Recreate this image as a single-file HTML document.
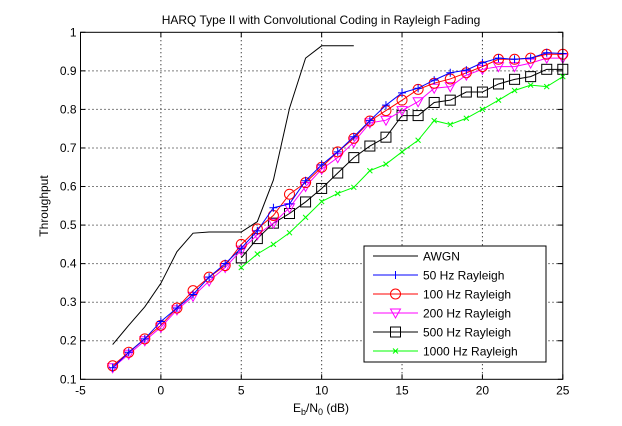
<!DOCTYPE html>
<html><head><meta charset="utf-8"><style>
body{margin:0;background:#fff;}
svg{display:block;font-family:"Liberation Sans",sans-serif;}
</style></head><body>
<svg id="chart" width="622" height="426" viewBox="0 0 622 426" xmlns="http://www.w3.org/2000/svg">
<rect x="0" y="0" width="622" height="426" fill="#fff"/>
<text x="321" y="24" font-size="12" text-anchor="middle">HARQ Type II with Convolutional Coding in Rayleigh Fading</text>
<text x="321" y="412" font-size="12" text-anchor="middle">E<tspan font-size="9" dy="3">b</tspan><tspan dy="-3">/N</tspan><tspan font-size="9" dy="3">0</tspan><tspan dy="-3"> (dB)</tspan></text>
<text transform="translate(48,206) rotate(-90)" font-size="12" text-anchor="middle">Throughput</text>
<g id="grid"></g><g id="series"></g><g id="axes"></g><g id="legend"></g>
</svg>
<script>
const xTicks=[-5,0,5,10,15,20,25];
const yTicks=[0.1,0.2,0.3,0.4,0.5,0.6,0.7,0.8,0.9,1];
const awgnX=[-3,-2,-1,0,1,2,3,4,5,6,7,8,9,10,11,12];
const awgnY=[0.19,0.24,0.288,0.349,0.431,0.479,0.482,0.482,0.482,0.509,0.617,0.803,0.933,0.965,0.965,0.965];
const rayX=[-3,-2,-1,0,1,2,3,4,5,6,7,8,9,10,11,12,13,14,15,16,17,18,19,20,21,22,23,24,25];
const hz50=[0.13,0.17,0.205,0.25,0.285,0.32,0.365,0.40,0.44,0.485,0.545,0.555,0.615,0.656,0.69,0.729,0.771,0.811,0.843,0.855,0.876,0.895,0.902,0.921,0.933,0.93,0.933,0.947,0.945];
const hz100=[0.135,0.17,0.205,0.24,0.285,0.33,0.365,0.395,0.45,0.49,0.525,0.58,0.61,0.65,0.69,0.725,0.77,0.797,0.824,0.852,0.868,0.879,0.895,0.911,0.93,0.93,0.933,0.943,0.943];
const hz200=[0.13,0.165,0.2,0.235,0.28,0.315,0.355,0.39,0.435,0.475,0.505,0.545,0.60,0.645,0.675,0.715,0.765,0.772,0.797,0.82,0.855,0.859,0.889,0.904,0.911,0.911,0.92,0.933,0.933];
const hiX=[5,6,7,8,9,10,11,12,13,14,15,16,17,18,19,20,21,22,23,24,25];
const hz500=[0.415,0.465,0.505,0.53,0.56,0.595,0.635,0.675,0.705,0.728,0.784,0.784,0.818,0.824,0.845,0.845,0.866,0.878,0.885,0.904,0.904];
const hz1000=[0.39,0.425,0.45,0.48,0.52,0.561,0.582,0.598,0.641,0.658,0.69,0.72,0.771,0.761,0.777,0.80,0.824,0.849,0.863,0.859,0.885];
const legendLabels=["AWGN","50 Hz Rayleigh","100 Hz Rayleigh","200 Hz Rayleigh","500 Hz Rayleigh","1000 Hz Rayleigh"];

const NS="http://www.w3.org/2000/svg";
const L=80.5,R=562.8,T=32.3,B=379.3;
const sx=v=>L+(v+5)/30*(R-L);
const sy=v=>B-(v-0.1)/0.9*(B-T);
function mk(tag,attrs,parent){const e=document.createElementNS(NS,tag);for(const k in attrs)e.setAttribute(k,attrs[k]);parent.appendChild(e);return e;}
const grid=document.getElementById('grid'),axes=document.getElementById('axes'),ser=document.getElementById('series'),leg=document.getElementById('legend');

xTicks.forEach(t=>{const x=sx(t);
 if(t>-5&&t<25){const g=mk('line',{x1:x,x2:x,y1:T,y2:B,stroke:'#000','stroke-width':1,'stroke-dasharray':'1,3'},grid);
 
 }
 mk('line',{x1:x,x2:x,y1:B,y2:B-5,stroke:'#000'},axes);mk('line',{x1:x,x2:x,y1:T,y2:T+5,stroke:'#000'},axes);
 const tx=mk('text',{x:x,y:B+15,'font-size':12,'text-anchor':'middle'},axes);tx.textContent=t;
 
 });
yTicks.forEach(t=>{const y=sy(t);
 if(t>0.1&&t<1){const g=mk('line',{x1:L,x2:R,y1:y,y2:y,stroke:'#000','stroke-width':1,'stroke-dasharray':'1,3'},grid);
 
 }
 mk('line',{x1:L,x2:L+5,y1:y,y2:y,stroke:'#000'},axes);mk('line',{x1:R,x2:R-5,y1:y,y2:y,stroke:'#000'},axes);
 const tx=mk('text',{x:L-4,y:y+4,'font-size':12,'text-anchor':'end'},axes);tx.textContent=(t===1?'1':String(t));
 
 });
const frame=mk('rect',{x:L,y:T,width:R-L,height:B-T,fill:'none',stroke:'#000'},axes);



function marker(type,x,y,color,p){
 if(type==='plus'){mk('path',{d:`M${x-4},${y}H${x+4}M${x},${y-4}V${y+4}`,stroke:color,fill:'none'},p);}
 else if(type==='circle'){mk('circle',{cx:x,cy:y,r:5,stroke:color,fill:'none'},p);}
 else if(type==='tri'){mk('path',{d:`M${x-5},${y-4}L${x+5},${y-4}L${x},${y+5}Z`,stroke:color,fill:'none'},p);}
 else if(type==='square'){mk('rect',{x:x-5,y:y-5,width:10,height:10,stroke:color,fill:'none'},p);}
 else if(type==='x'){mk('path',{d:`M${x-2.5},${y-2.5}L${x+2.5},${y+2.5}M${x-2.5},${y+2.5}L${x+2.5},${y-2.5}`,stroke:color,fill:'none'},p);}
}
function series(name,xs,ys,color,m){
 const g=mk('g',{},ser);
 
 
 mk('polyline',{points:xs.map((x,i)=>sx(x)+','+sy(ys[i])).join(' '),fill:'none',stroke:color,'stroke-width':1},g);
 if(m)xs.forEach((x,i)=>marker(m,sx(x),sy(ys[i]),color,g));
}
series('series-awgn',awgnX,awgnY,'#000',null);
series('series-500hz',hiX,hz500,'#000','square');
series('series-1000hz',hiX,hz1000,'#00ff00','x');
series('series-200hz',rayX,hz200,'#ff00ff','tri');
series('series-100hz',rayX,hz100,'#ff0000','circle');
series('series-50hz',rayX,hz50,'#0000ff','plus');

const lb=mk('rect',{x:364,y:246,width:182,height:116,fill:'#fff',stroke:'#000'},leg);


const lc=['#000','#0000ff','#ff0000','#ff00ff','#000','#00ff00'],lm=[null,'plus','circle','tri','square','x'];
legendLabels.forEach((lab,i)=>{const y=256+i*19;
 const g=mk('g',{},leg);
 
 
 mk('line',{x1:373,x2:418,y1:y,y2:y,stroke:lc[i]},g);
 if(lm[i])marker(lm[i],395.5,y,lc[i],g);
 const t=mk('text',{x:423,y:y+4.5,'font-size':12},g);t.textContent=lab;});
</script>
</body></html>
